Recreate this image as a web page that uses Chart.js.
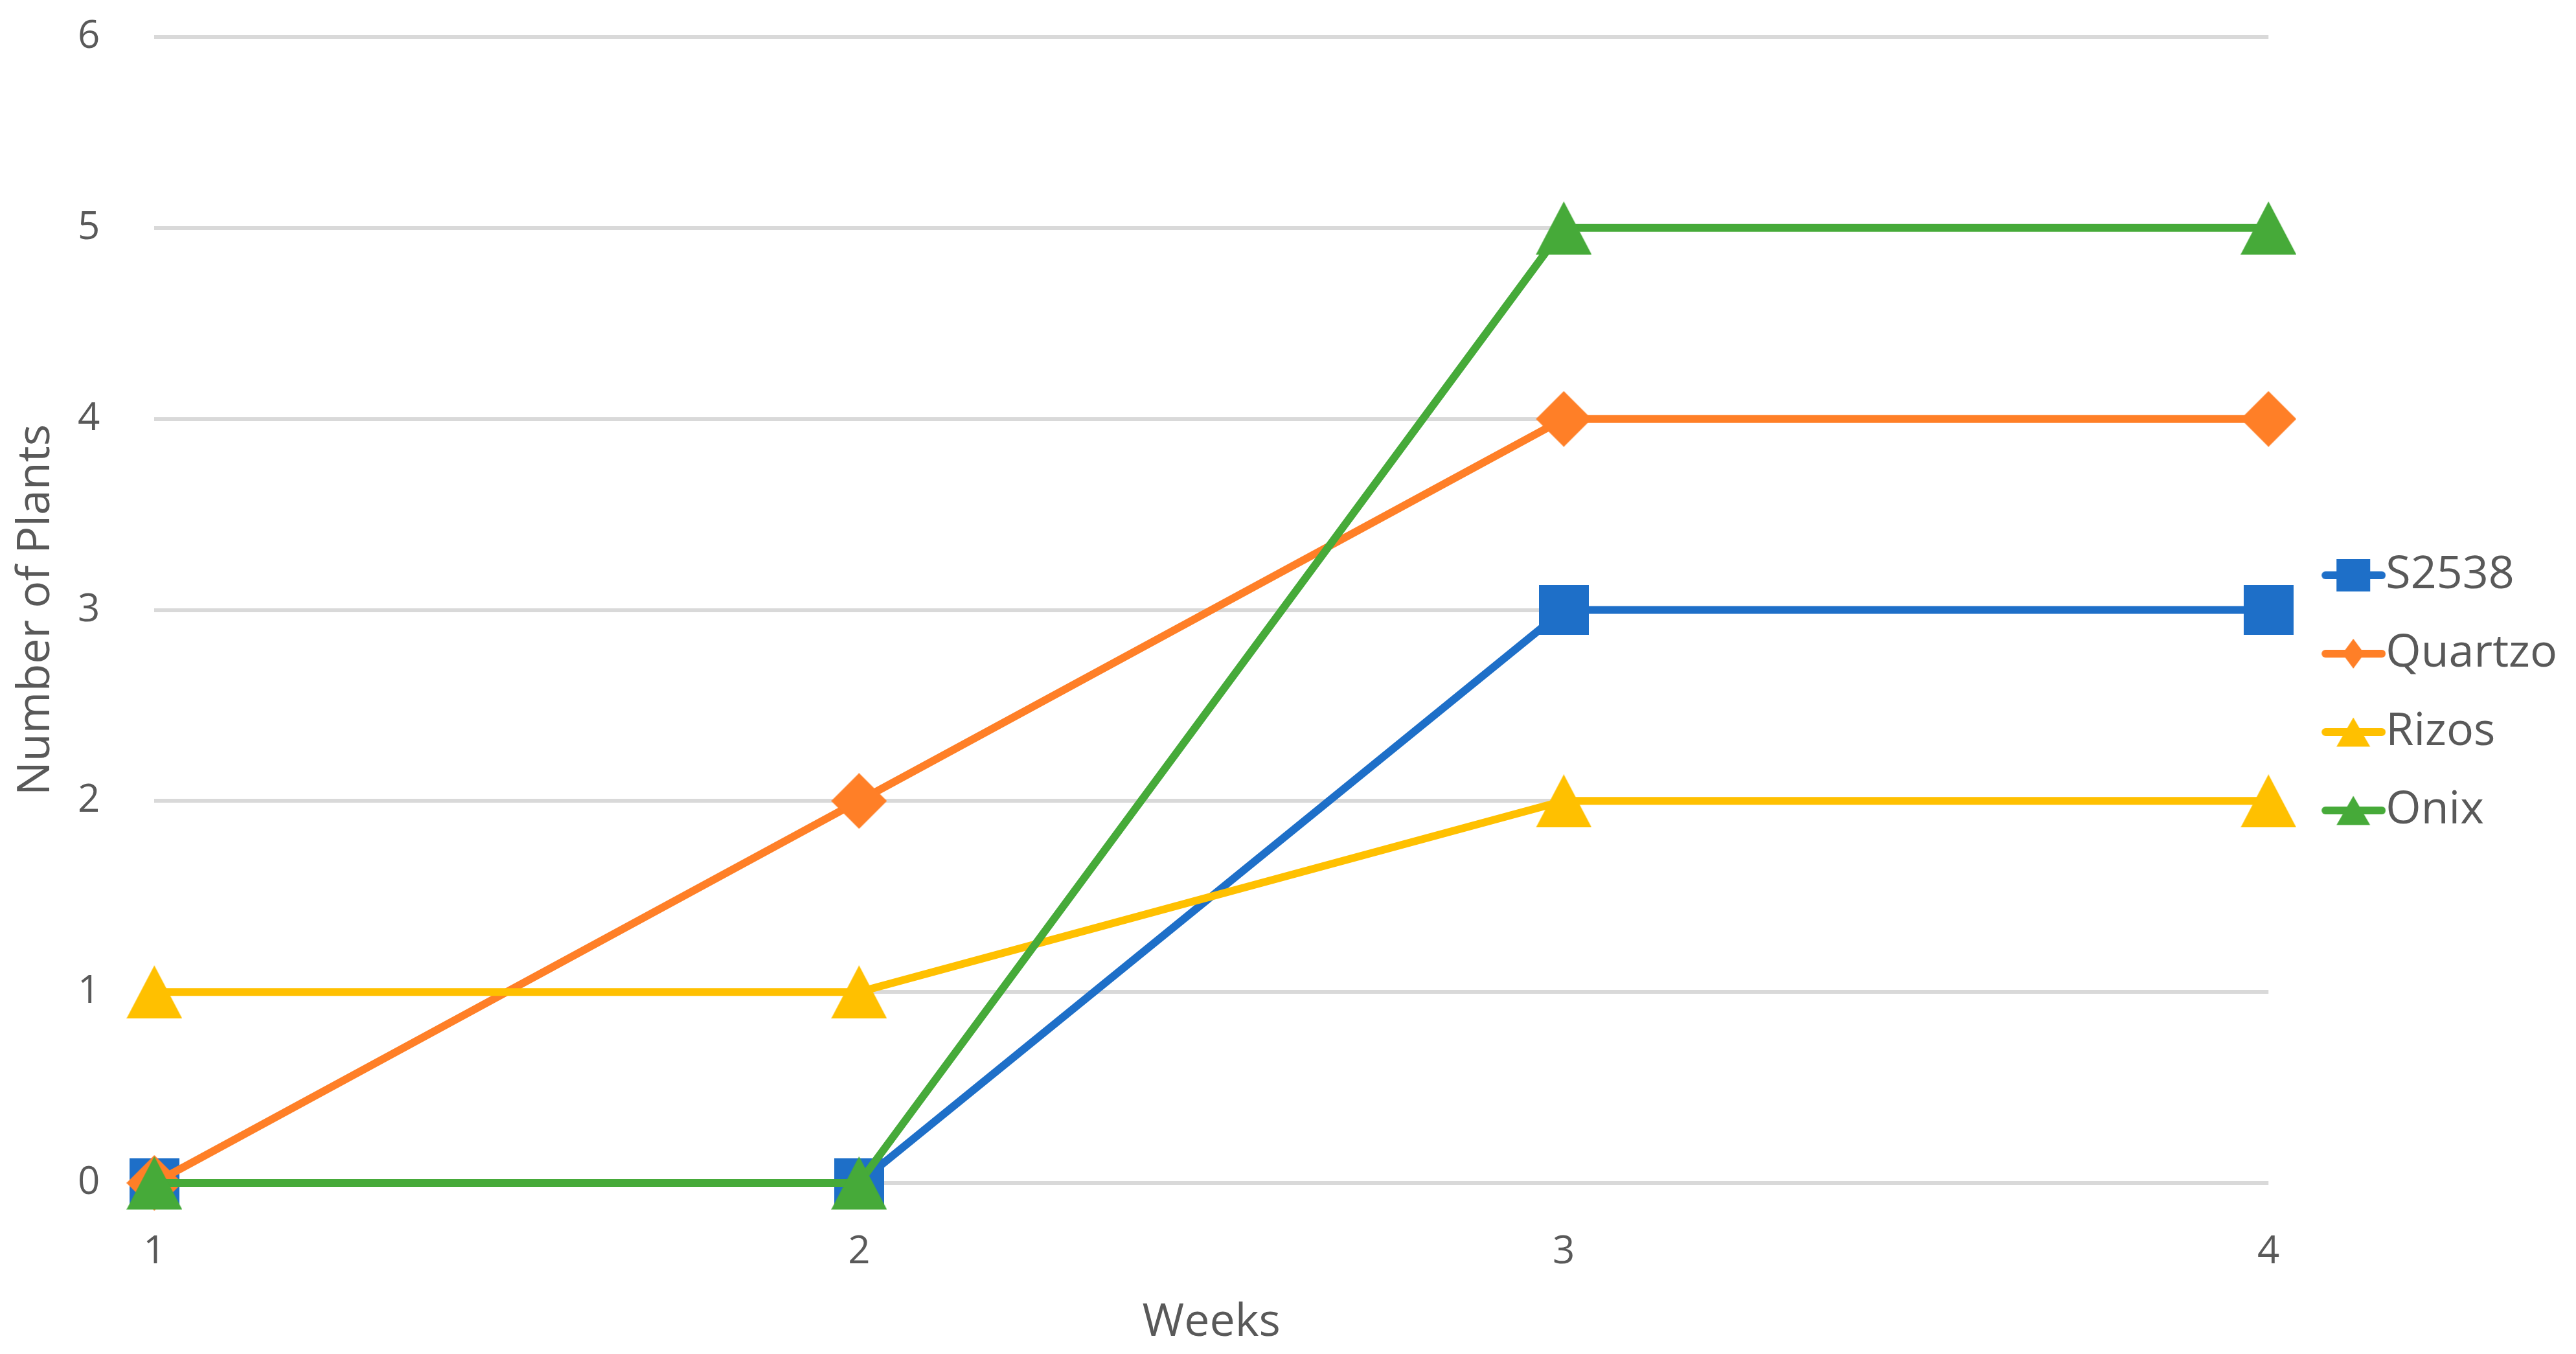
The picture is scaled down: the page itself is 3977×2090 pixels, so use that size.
<!DOCTYPE html>
<html>
<head>
<meta charset="utf-8">
<script src="https://cdn.jsdelivr.net/npm/chart.js@4"></script>
<style>
  html, body { margin: 0; padding: 0; background: #fff; }
  canvas { display: block; }
</style>
</head>
<body>
<canvas id="myChart" width="3977" height="2090"></canvas>
<script>
const weeks = ['1', '2', '3', '4'];
const seriesNames = ['S2538', 'Quartzo', 'Rizos', 'Onix'];
const s2538 = [0, 0, 3, 3];
const quartzo = [0, 2, 4, 4];
const rizos = [1, 1, 2, 2];
const onix = [0, 0, 5, 5];
const yTicks = [0, 1, 2, 3, 4, 5, 6];

const colors = ['#1E6FC8', '#FF7F27', '#FFC000', '#46AA39'];
const shapes = ['square', 'diamond', 'triangle', 'triangle'];
const textColor = '#595959';
const fontFamily = '"Open Sans", "Noto Sans", sans-serif';

// marker drawn into its own canvas so the shape matches the original
function shapePath(c, shape, cx, cy, w, h) {
    c.beginPath();
    if (shape === 'square') {
        c.rect(cx - w / 2, cy - h / 2, w, h);
    } else if (shape === 'diamond') {
        c.moveTo(cx, cy - h / 2);
        c.lineTo(cx + w / 2, cy);
        c.lineTo(cx, cy + h / 2);
        c.lineTo(cx - w / 2, cy);
        c.closePath();
    } else {
        c.moveTo(cx, cy - h / 2);
        c.lineTo(cx + w / 2, cy + h / 2);
        c.lineTo(cx - w / 2, cy + h / 2);
        c.closePath();
    }
}

function makeMarker(shape, color) {
    const size = {square: [77, 77], diamond: [86, 86], triangle: [86, 82]}[shape];
    const cv = document.createElement('canvas');
    cv.width = size[0];
    cv.height = size[1];
    const c = cv.getContext('2d');
    c.fillStyle = color;
    shapePath(c, shape, size[0] / 2, size[1] / 2, size[0], size[1]);
    c.fill();
    return cv;
}

function makeLegendIcon(shape, color) {
    const cv = document.createElement('canvas');
    cv.width = 165;
    cv.height = 60;
    const c = cv.getContext('2d');
    c.strokeStyle = color;
    c.lineWidth = 12;
    c.lineCap = 'round';
    c.beginPath();
    c.moveTo(72, 30);
    c.lineTo(159, 30);
    c.stroke();
    c.fillStyle = color;
    const size = {square: [52, 50], diamond: [34, 46], triangle: [52, 45]}[shape];
    shapePath(c, shape, 115, 30, size[0], size[1]);
    c.fill();
    return cv;
}

const values = [s2538, quartzo, rizos, onix];
// later series sit on top (Onix drawn last)
const datasets = seriesNames.map((name, i) => ({
    label: name,
    data: values[i],
    borderColor: colors[i],
    backgroundColor: colors[i],
    borderWidth: 12,
    pointStyle: makeMarker(shapes[i], colors[i]),
    pointRadius: 45,
    tension: 0,
    fill: false,
    clip: false,
    order: 4 - i
}));
const legendIcons = seriesNames.map((n, i) => makeLegendIcon(shapes[i], colors[i]));

const ctx = document.getElementById('myChart');

const myChart = new Chart(ctx, {
    type: 'line',
    data: {
        labels: weeks,
        datasets: datasets
    },
    options: {
        responsive: false,
        animation: false,
        devicePixelRatio: 1,
        layout: {
            padding: {left: 6, top: 51, right: 19, bottom: 2}
        },
        plugins: {
            tooltip: {enabled: false},
            legend: {
                position: 'right',
                labels: {
                    usePointStyle: true,
                    pointStyleWidth: 95,
                    padding: 51,
                    color: textColor,
                    font: {family: fontFamily, size: 70},
                    generateLabels: function(chart) {
                        return chart.data.datasets.map((ds, i) => ({
                            text: ds.label,
                            pointStyle: legendIcons[i],
                            fillStyle: ds.borderColor,
                            strokeStyle: ds.borderColor,
                            lineWidth: 0,
                            fontColor: textColor,
                            hidden: false,
                            datasetIndex: i
                        }));
                    }
                }
            }
        },
        scales: {
            x: {
                offset: false,
                border: {display: false},
                grid: {
                    color: 'rgba(0,0,0,0)',
                    drawTicks: true,
                    tickLength: 61,
                    tickColor: 'rgba(0,0,0,0)'
                },
                ticks: {
                    color: textColor,
                    padding: 10,
                    font: {family: fontFamily, size: 60}
                },
                title: {
                    display: true,
                    text: 'Weeks',
                    color: textColor,
                    font: {family: fontFamily, size: 70},
                    padding: {top: 21, bottom: 4}
                }
            },
            y: {
                min: 0,
                max: 6,
                border: {display: false},
                grid: {
                    color: '#D9D9D9',
                    lineWidth: 6,
                    drawTicks: true,
                    tickLength: 74,
                    tickColor: 'rgba(0,0,0,0)'
                },
                afterBuildTicks: function(axis) {
                    axis.ticks = yTicks.map(v => ({value: v}));
                },
                ticks: {
                    color: textColor,
                    padding: 10,
                    font: {family: fontFamily, size: 60}
                },
                title: {
                    display: true,
                    text: 'Number of Plants',
                    color: textColor,
                    font: {family: fontFamily, size: 70},
                    padding: {top: 8, bottom: 12}
                }
            }
        }
    }
});
</script>
</body>
</html>
